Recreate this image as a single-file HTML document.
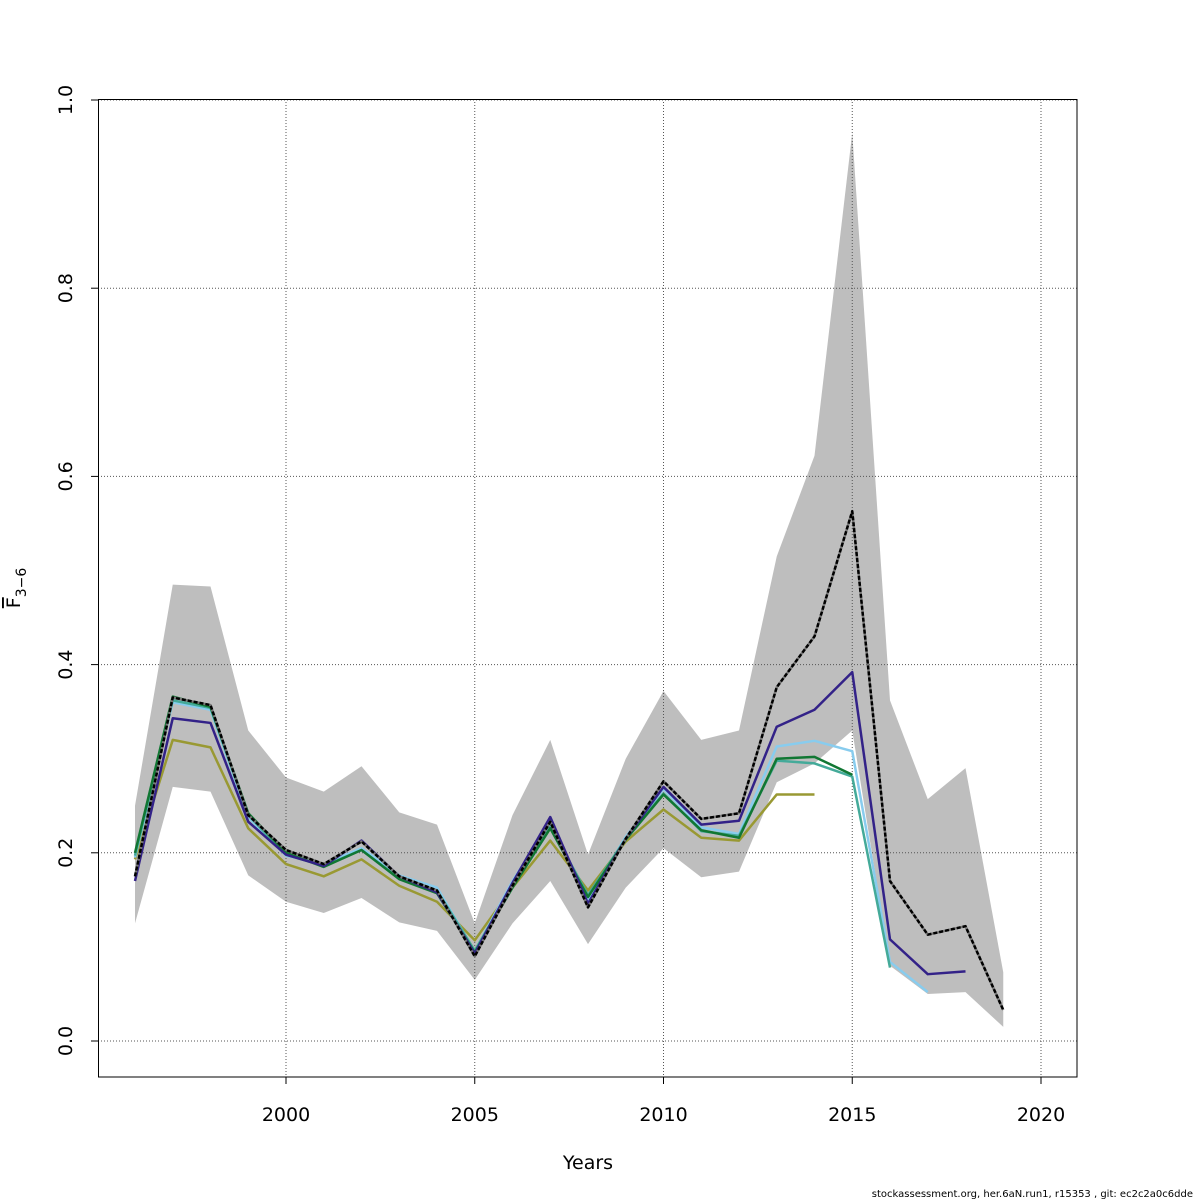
<!DOCTYPE html>
<html><head><meta charset="utf-8"><style>
html,body{margin:0;padding:0;background:#fff;}
svg{display:block;font-family:"DejaVu Sans","Liberation Sans",sans-serif;}
</style></head><body>
<svg id="chart" width="1200" height="1200" viewBox="0 0 1200 1200" xmlns="http://www.w3.org/2000/svg">
<g id="band"></g>
<g id="grid"></g>
<g id="series"></g>
<rect x="98.5" y="99.5" width="978.5" height="977.5" fill="none" stroke="#000" stroke-width="1"/>
<g id="xaxis"></g>
<g id="yaxis"></g>
<text x="588" y="1169" font-size="19" text-anchor="middle">Years</text>
<text transform="translate(20,588) rotate(-90)" font-size="19" text-anchor="middle"><tspan text-decoration="overline">F</tspan><tspan font-size="14" dy="6">3−6</tspan></text>
<text x="1193" y="1197" font-size="10" text-anchor="end">stockassessment.org, her.6aN.run1, r15353 , git: ec2c2a0c6dde</text>
</svg>
<script>
const years = [1996,1997,1998,1999,2000,2001,2002,2003,2004,2005,2006,2007,2008,2009,2010,2011,2012,2013,2014,2015,2016,2017,2018,2019];
const fbar = [0.175,0.365,0.357,0.24,0.203,0.188,0.212,0.175,0.16,0.09,0.165,0.233,0.142,0.215,0.276,0.236,0.242,0.376,0.43,0.563,0.17,0.113,0.122,0.033];
const upper = [0.25,0.485,0.483,0.33,0.28,0.265,0.292,0.243,0.23,0.125,0.24,0.32,0.198,0.3,0.372,0.32,0.33,0.515,0.622,0.965,0.362,0.257,0.29,0.073];
const lower = [0.125,0.27,0.265,0.176,0.148,0.136,0.152,0.126,0.117,0.065,0.125,0.17,0.103,0.163,0.205,0.174,0.18,0.275,0.295,0.33,0.08,0.05,0.052,0.015];
const peel1 = [0.17,0.343,0.338,0.233,0.198,0.186,0.213,0.175,0.158,0.093,0.168,0.238,0.146,0.215,0.27,0.23,0.234,0.334,0.352,0.392,0.108,0.071,0.074];
const peel2 = [0.195,0.36,0.352,0.238,0.197,0.188,0.205,0.176,0.163,0.095,0.17,0.233,0.15,0.217,0.268,0.227,0.22,0.313,0.319,0.308,0.084,0.052];
const peel3 = [0.197,0.362,0.354,0.24,0.198,0.186,0.203,0.173,0.16,0.096,0.165,0.228,0.155,0.215,0.263,0.223,0.218,0.298,0.295,0.281,0.078];
const peel4 = [0.2,0.366,0.355,0.242,0.2,0.185,0.203,0.172,0.157,0.094,0.163,0.226,0.153,0.214,0.262,0.224,0.216,0.3,0.302,0.283];
const peel5 = [0.193,0.32,0.312,0.226,0.188,0.175,0.193,0.165,0.148,0.107,0.163,0.213,0.16,0.212,0.246,0.216,0.213,0.262,0.262];
const xTicks = [2000,2005,2010,2015,2020];
const yTicks = [0.0,0.2,0.4,0.6,0.8,1.0];

const NS='http://www.w3.org/2000/svg';
function X(yr){return 286+(yr-2000)*37.75;}
function Y(v){return 1041-v*941;}
function mk(tag,attrs,parent){const e=document.createElementNS(NS,tag);for(const k in attrs)e.setAttribute(k,attrs[k]);parent.appendChild(e);return e;}

const band=document.getElementById('band');
let pts=years.map((y,i)=>X(y)+','+Y(upper[i]));
pts=pts.concat(years.slice().reverse().map((y,j)=>{const i=years.length-1-j;return X(y)+','+Y(lower[i]);}));
const poly=mk('polygon',{points:pts.join(' '),fill:'#bebebe',stroke:'none'},band);



const grid=document.getElementById('grid');
xTicks.forEach(t=>{const l=mk('line',{x1:X(t),x2:X(t),y1:99,y2:1077,stroke:'#555','stroke-width':1,'stroke-dasharray':'1,2'},grid);

});
yTicks.forEach(t=>{const l=mk('line',{x1:98,x2:1077,y1:Y(t),y2:Y(t),stroke:'#555','stroke-width':1,'stroke-dasharray':'1,2'},grid);

});

const series=document.getElementById('series');
function line(arr,color,name,w){
  const d=arr.map((v,i)=>(i?'L':'M')+X(years[i])+','+Y(v)).join(' ');
  const p=mk('path',{d:d,fill:'none',stroke:color,'stroke-width':w||2.5,'stroke-linejoin':'round'},series);
  
  
  return p;
}
line(peel5,'#999933','peel-line-5');
line(peel2,'#88ccee','peel-line-2');
line(peel3,'#44aa99','peel-line-3');
line(peel4,'#117733','peel-line-4');
line(peel1,'#332288','peel-line-1');
const main=line(fbar,'#000','fbar-line',2.5);
main.setAttribute('stroke-dasharray','4,2');
const mainBg=line(fbar,'#777','fbar-line-under',2.5);
series.insertBefore(mainBg,main);

const xa=document.getElementById('xaxis');
xTicks.forEach(t=>{const l=mk('line',{x1:X(t),x2:X(t),y1:1077,y2:1084,stroke:'#000'},xa);


const tx=mk('text',{x:X(t),y:1121,'font-size':19,'text-anchor':'middle'},xa);tx.textContent=t;

});
const ya=document.getElementById('yaxis');
yTicks.forEach(t=>{const l=mk('line',{x1:91,x2:98,y1:Y(t),y2:Y(t),stroke:'#000'},ya);


const tx=mk('text',{transform:'translate(72,'+Y(t)+') rotate(-90)','font-size':19,'text-anchor':'middle'},ya);tx.textContent=t.toFixed(1);

});
</script>
</body></html>
